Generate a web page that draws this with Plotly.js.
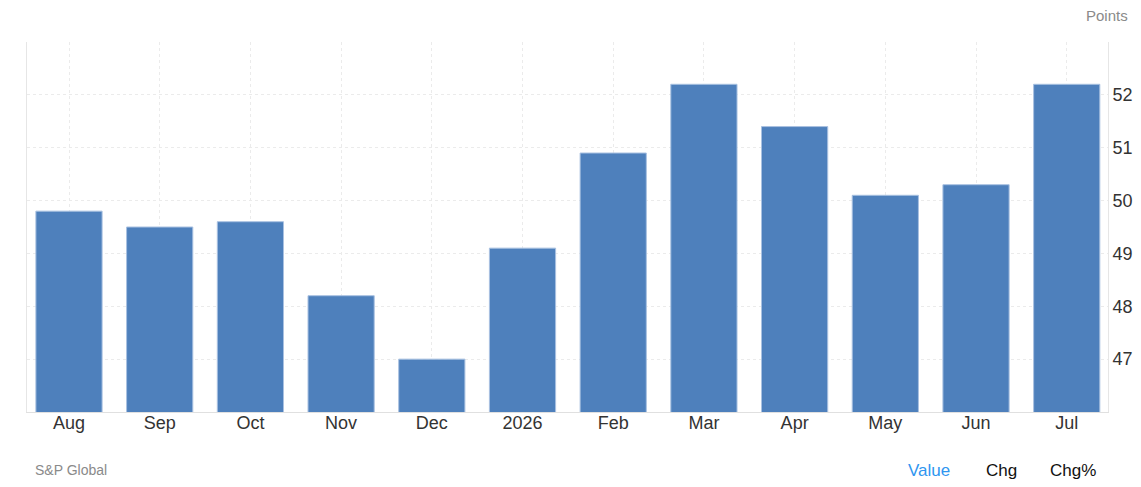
<!DOCTYPE html>
<html>
<head>
<meta charset="utf-8">
<script src="https://cdn.plot.ly/plotly-3.0.1.min.js"></script>
<style>
html,body{margin:0;padding:0;background:#fff;}
#chart{width:1141px;height:487px;}
</style>
</head>
<body>
<div id="chart"></div>
<script>
const categories = ["Aug","Sep","Oct","Nov","Dec","2026","Feb","Mar","Apr","May","Jun","Jul"];
const values = [49.8, 49.5, 49.6, 48.2, 47.0, 49.1, 50.9, 52.2, 51.4, 50.1, 50.3, 52.2];
const yTicks = [47, 48, 49, 50, 51, 52];
const unitLabel = "Points";
const sourceLabel = "S&P Global";
const modeLabels = ["Value", "Chg", "Chg%"];

const trace = {
  type: "bar",
  x: categories,
  y: values,
  width: 0.73,
  marker: {color: "#4e80bc", line: {color: "#a9c1e1", width: 1}},
  hoverinfo: "x+y"
};

const font = "Liberation Sans, Arial, sans-serif";

const layout = {
  width: 1141, height: 487,
  margin: {l: 27, r: 33, t: 42, b: 75},
  paper_bgcolor: "#fff", plot_bgcolor: "#fff",
  showlegend: false,
  bargap: 0.27,
  font: {family: font, color: "#333"},
  xaxis: {
    type: "category",
    range: [-0.463, 11.455],
    showgrid: true, gridcolor: "#ebebeb", griddash: "dot", gridwidth: 1,
    showline: true, linecolor: "#e0e0e0", linewidth: 1,
    ticks: "", ticklabelstandoff: -6,
    tickfont: {size: 18, color: "#333", family: font},
    fixedrange: true
  },
  yaxis: {
    side: "right",
    range: [46, 53],
    tickvals: yTicks,
    showgrid: true, gridcolor: "#ebebeb", griddash: "dot", gridwidth: 1,
    showline: true, linecolor: "#e6e6e6", linewidth: 1, mirror: true,
    zeroline: false,
    ticks: "", ticklabelstandoff: 0,
    tickfont: {size: 18, color: "#333", family: font},
    fixedrange: true
  },
  annotations: [
    {xref: "paper", yref: "paper", x: 1.0 + 22/1081, y: 1 + 26/369, xanchor: "right", yanchor: "middle",
     text: unitLabel, showarrow: false, font: {size: 15, color: "#8a8a8a", family: font}},
    {xref: "paper", yref: "paper", x: 6/1081, y: -58/369, xanchor: "left", yanchor: "middle",
     text: sourceLabel, showarrow: false, font: {size: 14, color: "#8a8a8a", family: font}},
    {xref: "paper", yref: "paper", x: (929-27)/1081, y: -58/369, xanchor: "center", yanchor: "middle",
     text: modeLabels[0], showarrow: false, font: {size: 17, color: "#2f96f0", family: font}},
    {xref: "paper", yref: "paper", x: (1001-27)/1081, y: -58/369, xanchor: "center", yanchor: "middle",
     text: modeLabels[1], showarrow: false, font: {size: 17, color: "#111", family: font}},
    {xref: "paper", yref: "paper", x: (1073-27)/1081, y: -58/369, xanchor: "center", yanchor: "middle",
     text: modeLabels[2], showarrow: false, font: {size: 17, color: "#111", family: font}}
  ]
};

Plotly.newPlot("chart", [trace], layout, {displayModeBar: false, responsive: false});
</script>
</body>
</html>
